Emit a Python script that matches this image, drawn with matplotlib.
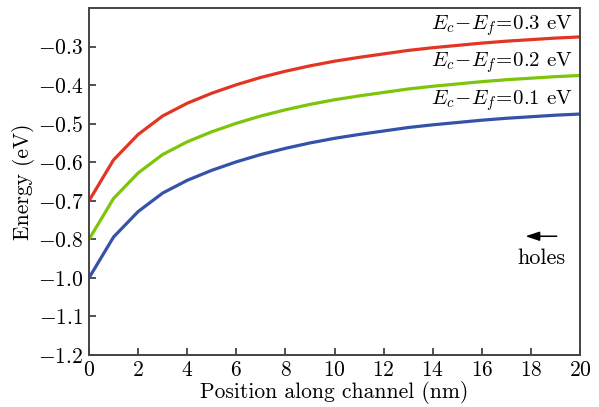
import matplotlib
matplotlib.use("Agg")
import matplotlib.pyplot as plt

plt.rcParams['font.family'] = 'serif'
plt.rcParams['font.serif'] = ['cmr10']
plt.rcParams['mathtext.fontset'] = 'cm'
plt.rcParams['axes.unicode_minus'] = False

# position along channel (nm)
x = list(range(21))
# energy curves in axis coordinates
e_03 = [-0.700, -0.594, -0.528, -0.480, -0.447, -0.421, -0.399, -0.380, -0.364, -0.350,
        -0.338, -0.328, -0.319, -0.310, -0.303, -0.297, -0.291, -0.286, -0.282, -0.278, -0.275]
e_02 = [-0.800, -0.694, -0.628, -0.580, -0.547, -0.521, -0.499, -0.480, -0.464, -0.450,
        -0.438, -0.428, -0.419, -0.410, -0.403, -0.397, -0.391, -0.386, -0.382, -0.378, -0.375]
e_01 = [-0.900, -0.794, -0.728, -0.680, -0.647, -0.621, -0.599, -0.580, -0.564, -0.550,
        -0.538, -0.528, -0.519, -0.510, -0.503, -0.497, -0.491, -0.486, -0.482, -0.478, -0.475]

ytick_pos = [-1.1, -1.0, -0.9, -0.8, -0.7, -0.6, -0.5, -0.4, -0.3]
ytick_lab = ['-1.2', '-1.1', '-1.0', '-0.8', '-0.7', '-0.6', '-0.5', '-0.4', '-0.3']
xticks = [0, 2, 4, 6, 8, 10, 12, 14, 16, 18, 20]

labels = [r'$E_c\!-\!E_f\!=\!0.3$ eV', r'$E_c\!-\!E_f\!=\!0.2$ eV', r'$E_c\!-\!E_f\!=\!0.1$ eV']
label_y = [-0.246, -0.342, -0.441]
colors = ['#e33523', '#7dc40a', '#3452a8']

fig = plt.figure(figsize=(5.99, 4.07), dpi=100)
ax = fig.add_axes([0.1486, 0.1278, 0.8197, 0.8525])

for series, c in zip([e_03, e_02, e_01], colors):
	ax.plot(x, series, color=c, lw=2.3, solid_capstyle='butt')

for lab, ly in zip(labels, label_y):
	ax.text(19.7, ly, lab, ha='right', va='center', fontsize=15)

ax.annotate('', xy=(17.78, -0.792), xytext=(19.05, -0.792),
	arrowprops=dict(arrowstyle='-|>,head_length=0.6,head_width=0.2', color='black', lw=1.1,
		mutation_scale=14, shrinkA=0, shrinkB=0))
ax.text(18.43, -0.848, 'holes', ha='center', va='center', fontsize=16)

ax.set_xlim(0, 20)
ax.set_ylim(-1.1, -0.2)
ax.set_xticks(xticks)
ax.set_xticklabels([r'$%d$' % v for v in xticks])
ax.set_yticks(ytick_pos)
ax.set_yticklabels([r'$%s$' % s for s in ytick_lab])
ax.tick_params(direction='in', length=5, width=1.2, labelsize=15.5, color='#333333', pad=4)
for sp in ax.spines.values():
	sp.set_linewidth(1.4)
	sp.set_color('#444444')

ax.set_xlabel('Position along channel (nm)', fontsize=15.5, labelpad=1)
ax.set_ylabel('Energy (eV)', fontsize=15.5, labelpad=2)

fig.savefig('out.png', dpi=100)
